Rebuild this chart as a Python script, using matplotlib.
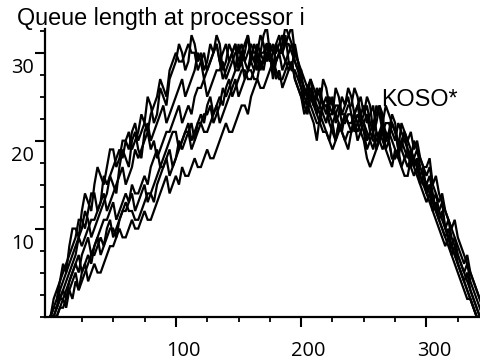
import numpy as np
import matplotlib
matplotlib.use("Agg")
import matplotlib.pyplot as plt
from matplotlib.ticker import FixedLocator
import matplotlib.transforms as mtrans

nan = np.nan
STEP = 2.5  # time step between samples

q1 = [0,2, 3,4, 6,5, 8,10, 10,9, 12,14, 13,12, 15,17, 16,15, 17,19,
      19,17, 18,20, 20,19, 21,22, 20,21, 22,25, 24,22, 23,26, 25,24, 27,28,
      29,31, 30,28, 29,32, 31,29, 30,28, 29,31, 30,32, 31,28, 29,31, 30,28,
      31,29, 30,32, 29,28, 30,32, 31,29, 30,27, 29,30, 31,33, 32,31, 30,29,
      28,27, 26,27, 25,23, 24,27, 26,24, 25,22, 23,25, 24,26, 25,23, 24,22,
      23,25, 24,21, 22,24, 23,20, 21,23, 22,19, 20,21, 19,17, 18,19, 17,16,
      15,16, 14,12, 12,13, 10,9, 8,7, 6,5, 4,3, 2,1, 0,nan, nan]
q2 = [0,1, 2,4, 5,6, 7,8, 9,11, 11,10, 12,14, 14,12, 13,16, 15,16,
      17,18, 19,18, 20,21, 19,20, 21,23, 22,21, 23,24, 25,27, 26,25, 28,29,
      30,29, 29,30, 31,30, 30,28, 29,30, 28,29, 30,31, 29,27, 28,29, 30,31,
      29,30, 31,32, 30,29, 28,30, 29,31, 30,28, 31,30, 30,32, 29,28, 31,29,
      27,26, 25,27, 26,25, 24,23, 22,24, 23,26, 25,23, 24,25, 23,21, 22,23,
      24,22, 23,24, 21,20, 22,24, 23,22, 21,19, 22,21, 20,21, 19,20, 18,17,
      17,18, 15,16, 14,13, 12,11, 10,11, 9,8, 7,6, 5,4, 3,2, 1]
q3 = [0,0, 1,3, 4,5, 6,7, 8,9, 10,12, 11,9, 10,11, 12,13, 14,16,
      15,14, 17,19, 18,17, 20,21, 19,18, 21,22, 20,21, 22,23, 24,22, 23,24,
      25,26, 27,25, 26,27, 28,30, 29,27, 28,29, 30,31, 29,30, 31,29, 30,31,
      28,30, 29,28, 30,29, 31,30, 32,33, 30,31, 29,30, 28,29, 30,31, 29,28,
      28,25, 26,25, 24,26, 25,24, 23,25, 24,23, 22,21, 23,24, 24,26, 25,23,
      22,20, 21,22, 23,24, 22,21, 20,22, 21,20, 19,21, 20,19, 18,17, 16,17,
      14,15, 13,12, 11,10, 9,8, 7,8, 6,5, 4,3, 2,1, 0,nan, nan]
q4 = [0,0, 1,2, 3,4, 5,6, 7,9, 8,9, 10,11, 11,12, 13,14, 12,13,
      14,15, 16,17, 15,16, 17,19, 18,19, 20,21, 19,20, 18,19, 20,21, 21,22,
      23,24, 22,23, 24,23, 25,26, 26,27, 25,26, 27,28, 28,29, 27,28, 29,30,
      30,31, 29,30, 31,30, 30,28, 29,31, 31,30, 30,31, 32,31, 31,30, 29,28,
      26,25, 24,26, 25,24, 23,24, 24,23, 22,20, 21,22, 23,22, 22,23, 24,25,
      23,24, 22,21, 24,23, 21,22, 22,21, 20,22, 21,20, 19,18, 20,19, 18,17,
      16,17, 15,14, 13,14, 12,11, 10,9, 8,7, 6,7, 5,4, 3,2, 1]
q5 = [0,1, 1,2, 2,3, 4,5, 6,5, 7,8, 9,7, 8,9, 10,11, 11,12,
      13,11, 12,13, 14,13, 15,14, 14,15, 16,15, 17,18, 19,17, 18,19, 20,21,
      21,19, 20,21, 22,20, 21,22, 23,22, 24,25, 23,24, 25,24, 26,27, 25,26,
      27,28, 28,27, 27,28, 29,30, 30,31, 29,30, 31,30, 30,29, 28,29, 27,26,
      25,23, 24,23, 22,20, 23,22, 21,20, 22,23, 24,23, 23,22, 21,22, 20,21,
      22,23, 21,20, 20,21, 22,20, 21,20, 19,18, 20,19, 18,19, 17,18, 16,15,
      15,14, 13,14, 12,11, 10,11, 9,8, 7,6, 5,4, 3,2, 1,0, nan]
q6 = [0,0, 0,1, 2,1, 3,4, 5,3, 4,5, 6,7, 7,8, 9,8, 10,11,
      9,10, 11,12, 12,13, 14,12, 13,14, 15,13, 14,15, 16,17, 17,18, 19,17,
      18,19, 20,21, 21,19, 20,22, 22,21, 21,22, 23,24, 22,23, 24,25, 26,27,
      25,26, 27,28, 28,27, 27,29, 29,30, 30,29, 28,27, 27,28, 29,28, 28,27,
      26,24, 25,24, 23,22, 22,24, 24,22, 21,20, 22,21, 20,19, 21,22, 23,22,
      21,19, 20,21, 19,20, 21,19, 20,18, 18,19, 17,18, 19,17, 16,17, 15,14,
      13,14, 12,11, 10,9, 8,9, 7,6, 5,4, 3,2, 2,1, 0,nan, nan]
q7 = [0,0, 0,1, 1,2, 3,2, 4,3, 5,6, 4,5, 6,5, 5,6, 7,8,
      8,9, 10,9, 9,10, 11,10, 10,11, 12,11, 11,12, 13,14, 15,16, 14,15,
      16,15, 17,16, 16,17, 18,17, 17,18, 19,18, 18,19, 20,21, 22,21, 21,22,
      23,24, 24,23, 25,26, 27,26, 26,27, 28,29, 27,28, 26,27, 28,29, 27,26,
      25,24, 23,25, 24,23, 22,21, 21,20, 19,20, 22,21, 20,21, 21,23, 22,21,
      20,18, 17,18, 19,21, 20,19, 18,17, 19,18, 17,16, 16,18, 17,16, 15,16,
      14,13, 12,13, 11,10, 9,10, 8,7, 6,5, 4,5, 3,2, 1,0, nan]
q8 = [0,1, 1,2, 3,2, 4,5, 6,7, 5,6, 7,6, 8,9, 7,8, 9,10,
      10,9, 11,12, 13,12, 12,11, 11,12, 13,14, 14,13, 15,16, 17,18, 16,17,
      18,20, 19,20, 21,22, 20,21, 22,23, 23,24, 22,23, 24,26, 25,26, 27,28,
      28,29, 27,28, 29,31, 30,29, 28,30, 29,30, 31,32, 30,31, 32,33, 30,29,
      27,26, 25,26, 24,25, 26,24, 25,23, 23,24, 24,22, 22,23, 23,22, 21,22,
      22,21, 20,19, 21,20, 19,20, 20,18, 18,19, 19,18, 17,18, 18,17, 16,15,
      14,15, 13,12, 11,12, 10,9, 8,9, 7,6, 5,6, 4,3, 2,1, 0]
series = [q1, q2, q3, q4, q5, q6, q7, q8]

x_major = [100, 200, 300]
x_minor = [25, 50, 75, 125, 150, 175, 225, 250, 275, 325]
x_labels = ["100", "200", "300"]
y_major = [10, 20, 30]
y_minor = [0, 2.5, 5, 7.5, 12.5, 15, 17.5, 22.5, 25, 27.5, 32.5]
y_labels = ["10", "20", "30"]
title = "Queue length at processor i"
annot = "KOSO*"

W, H = 481, 361
fig = plt.figure(figsize=(W / 100, H / 100), dpi=100)
ax = fig.add_axes([44.5 / W, (H - 316.5) / H, (W - 44.5) / W, (316.5 - 29) / H])

for s in series:
    xs = np.arange(len(s)) * STEP
    ax.plot(xs, np.array(s, dtype=float), color="black", lw=1.6, solid_joinstyle="miter")

ax.set_xlim(-4.8, 343.5)
ax.set_ylim(0, 32.7)
for sp in ("top", "right"):
    ax.spines[sp].set_visible(False)
for sp in ("left", "bottom"):
    ax.spines[sp].set_linewidth(1.6)

ax.xaxis.set_major_locator(FixedLocator(x_major))
ax.xaxis.set_minor_locator(FixedLocator(x_minor))
ax.yaxis.set_major_locator(FixedLocator(y_major))
ax.yaxis.set_minor_locator(FixedLocator(y_minor))
ax.set_xticklabels(x_labels)
ax.set_yticklabels(y_labels)
ax.tick_params(which="major", length=7, width=1.5, direction="out")
ax.tick_params(which="minor", length=3.3, width=1.3, direction="out")
ax.tick_params(axis="x", which="major", pad=10.5)
ax.tick_params(axis="y", which="major", pad=0.5)
for lab in ax.get_xticklabels() + ax.get_yticklabels():
    lab.set_fontfamily("Open Sans")
    lab.set_fontsize(14.4)

fig.canvas.draw()
for lab in ax.get_xticklabels():
    lab.set_transform(lab.get_transform() + mtrans.ScaledTranslation(7.5 / 100, 0, fig.dpi_scale_trans))
for lab in ax.get_yticklabels():
    lab.set_transform(lab.get_transform() + mtrans.ScaledTranslation(0, -12.5 / 100, fig.dpi_scale_trans))

fig.text(17 / W, 1 - 25 / H, title, fontsize=16.8, family="Liberation Sans",
         ha="left", va="baseline")
ax.text(264, 23.9, annot, fontsize=16.8, family="Liberation Sans",
        ha="left", va="baseline")

fig.savefig("out.png", dpi=100)
